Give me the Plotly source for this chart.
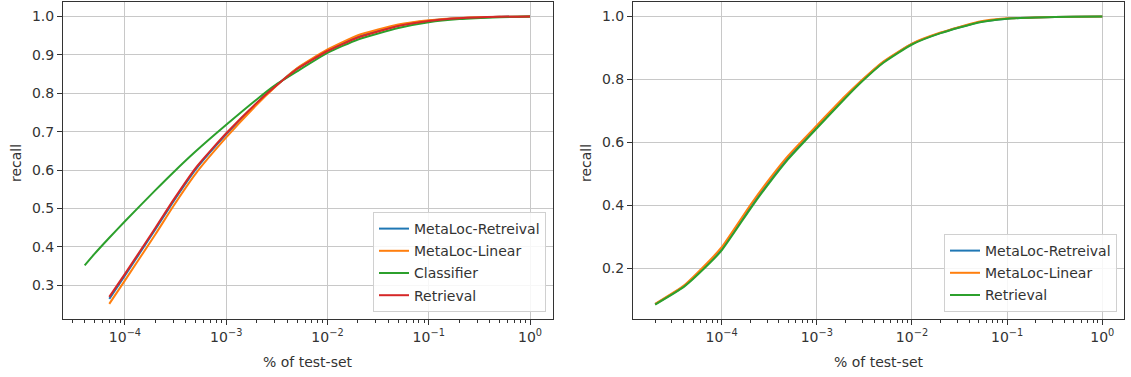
import plotly.graph_objects as go

W, H = 1131, 377

# ---------------- data (left panel) ----------------
left_x_green = [4e-5, 5e-5, 7e-5, 1e-4, 2e-4, 3e-4, 5e-4, 1e-3, 2e-3, 3e-3, 5e-3, 1e-2, 2e-2, 5e-2, 1e-1, 2e-1, 5e-1, 1.0]
left_classifier = [0.352, 0.382, 0.424, 0.467, 0.548, 0.594, 0.649, 0.718, 0.784, 0.820, 0.857, 0.905, 0.940, 0.970, 0.985, 0.993, 0.998, 1.0]

left_x = [7e-5, 1e-4, 2e-4, 3e-4, 5e-4, 1e-3, 2e-3, 3e-3, 5e-3, 1e-2, 2e-2, 5e-2, 1e-1, 2e-1, 5e-1, 1.0]
left_metaloc_retrieval = [0.265, 0.326, 0.446, 0.518, 0.602, 0.693, 0.774, 0.816, 0.864, 0.911, 0.947, 0.977, 0.989, 0.995, 0.999, 1.0]
left_metaloc_linear = [0.252, 0.313, 0.433, 0.506, 0.591, 0.685, 0.770, 0.815, 0.865, 0.914, 0.951, 0.979, 0.990, 0.996, 0.999, 1.0]
left_retrieval = [0.270, 0.330, 0.450, 0.522, 0.606, 0.696, 0.775, 0.816, 0.863, 0.910, 0.945, 0.975, 0.988, 0.995, 0.999, 1.0]

# ---------------- data (right panel) ----------------
right_x = [2e-5, 4e-5, 7e-5, 1e-4, 2e-4, 3e-4, 5e-4, 1e-3, 2e-3, 3e-3, 5e-3, 1e-2, 2e-2, 5e-2, 1e-1, 2e-1, 5e-1, 1.0]
right_metaloc_retrieval = [0.086, 0.143, 0.212, 0.262, 0.395, 0.468, 0.553, 0.650, 0.745, 0.797, 0.855, 0.913, 0.948, 0.982, 0.993, 0.997, 0.999, 1.0]
right_metaloc_linear = [0.087, 0.145, 0.216, 0.267, 0.401, 0.474, 0.558, 0.654, 0.748, 0.799, 0.857, 0.914, 0.949, 0.983, 0.994, 0.997, 0.999, 1.0]
right_retrieval = [0.085, 0.141, 0.208, 0.257, 0.389, 0.462, 0.547, 0.645, 0.741, 0.794, 0.853, 0.911, 0.947, 0.981, 0.993, 0.997, 0.999, 1.0]

# ---------------- labels ----------------
major_ticks = [1e-4, 1e-3, 1e-2, 1e-1, 1.0]
major_text = ["10<sup>−4</sup>", "10<sup>−3</sup>", "10<sup>−2</sup>", "10<sup>−1</sup>", "10<sup>0</sup>"]
left_yticks = [0.3, 0.4, 0.5, 0.6, 0.7, 0.8, 0.9, 1.0]
right_yticks = [0.2, 0.4, 0.6, 0.8, 1.0]
x_title = "% of test-set"
y_title = "recall"

C_BLUE, C_ORANGE, C_GREEN, C_RED = "#1f77b4", "#ff7f0e", "#2ca02c", "#d62728"

minor_vals = [k * 10.0 ** e for e in range(-5, 1) for k in range(2, 10)]

fig = go.Figure()

def add(x, y, name, color, xa, ya, legend):
    fig.add_trace(go.Scatter(x=x, y=y, name=name, mode="lines",
                             line=dict(color=color, width=2, shape="spline", smoothing=0.5),
                             xaxis=xa, yaxis=ya, legend=legend, legendgroup=name + legend))

add(left_x, left_metaloc_retrieval, "MetaLoc-Retreival", C_BLUE, "x", "y", "legend")
add(left_x, left_metaloc_linear, "MetaLoc-Linear", C_ORANGE, "x", "y", "legend")
add(left_x_green, left_classifier, "Classifier", C_GREEN, "x", "y", "legend")
add(left_x, left_retrieval, "Retrieval", C_RED, "x", "y", "legend")

add(right_x, right_metaloc_retrieval, "MetaLoc-Retreival", C_BLUE, "x2", "y2", "legend2")
add(right_x, right_metaloc_linear, "MetaLoc-Linear", C_ORANGE, "x2", "y2", "legend2")
add(right_x, right_retrieval, "Retrieval", C_GREEN, "x2", "y2", "legend2")

font = dict(family="DejaVu Sans", size=14, color="#333333")

def xaxis(domain, rng, anchor):
    return dict(domain=domain, anchor=anchor, type="log", range=rng,
                tickmode="array", tickvals=major_ticks, ticktext=major_text,
                ticks="outside", ticklen=5, tickwidth=1, tickcolor="#333",
                showgrid=True, gridcolor="#c8c8c8", gridwidth=1,
                showline=True, linecolor="#333", linewidth=1, mirror=True,
                zeroline=False, tickfont=font, automargin=False,
                minor=dict(tickmode="array", tickvals=minor_vals, ticks="outside",
                           ticklen=2.5, tickwidth=1, tickcolor="#333", showgrid=False))

def yaxis(domain, rng, anchor, ticks):
    return dict(domain=domain, anchor=anchor, range=rng,
                tickmode="array", tickvals=ticks, ticktext=[f"{v:.1f}" for v in ticks],
                ticks="outside", ticklen=5, tickwidth=1, tickcolor="#333",
                showgrid=True, gridcolor="#c8c8c8", gridwidth=1,
                showline=True, linecolor="#333", linewidth=1, mirror=True,
                zeroline=False, tickfont=font, automargin=False)

ydom = [1 - 319 / H, 1 - 2 / H]

legend_common = dict(bgcolor="rgba(255,255,255,0.85)", bordercolor="#d0d0d0", borderwidth=1,
                     font=font, xanchor="right", yanchor="bottom", xref="paper", yref="paper",
                     traceorder="grouped", tracegroupgap=1, itemwidth=30)

fig.update_layout(
    width=W, height=H, margin=dict(l=0, r=0, t=0, b=0),
    paper_bgcolor="white", plot_bgcolor="white", font=font,
    showlegend=True,
    xaxis=xaxis([63 / W, 553 / W], [-4.612, 0.227], "y"),
    yaxis=yaxis(ydom, [0.2125, 1.0375], "x", left_yticks),
    xaxis2=xaxis([633 / W, 1124 / W], [-4.932, 0.228], "y2"),
    yaxis2=yaxis(ydom, [0.039, 1.046], "x2", right_yticks),
    legend=dict(x=546 / W, y=1 - 312 / H, **legend_common),
    legend2=dict(x=1117 / W, y=1 - 312 / H, **legend_common),
    annotations=[
        dict(text=x_title, x=308 / W, y=1 - 362 / H, xref="paper", yref="paper",
             showarrow=False, font=font, xanchor="center", yanchor="middle"),
        dict(text=x_title, x=879 / W, y=1 - 362 / H, xref="paper", yref="paper",
             showarrow=False, font=font, xanchor="center", yanchor="middle"),
        dict(text=y_title, x=16 / W, y=1 - 163 / H, xref="paper", yref="paper", textangle=-90,
             showarrow=False, font=font, xanchor="center", yanchor="middle"),
        dict(text=y_title, x=586 / W, y=1 - 163 / H, xref="paper", yref="paper", textangle=-90,
             showarrow=False, font=font, xanchor="center", yanchor="middle"),
    ],
)

fig.write_html("out.html")
